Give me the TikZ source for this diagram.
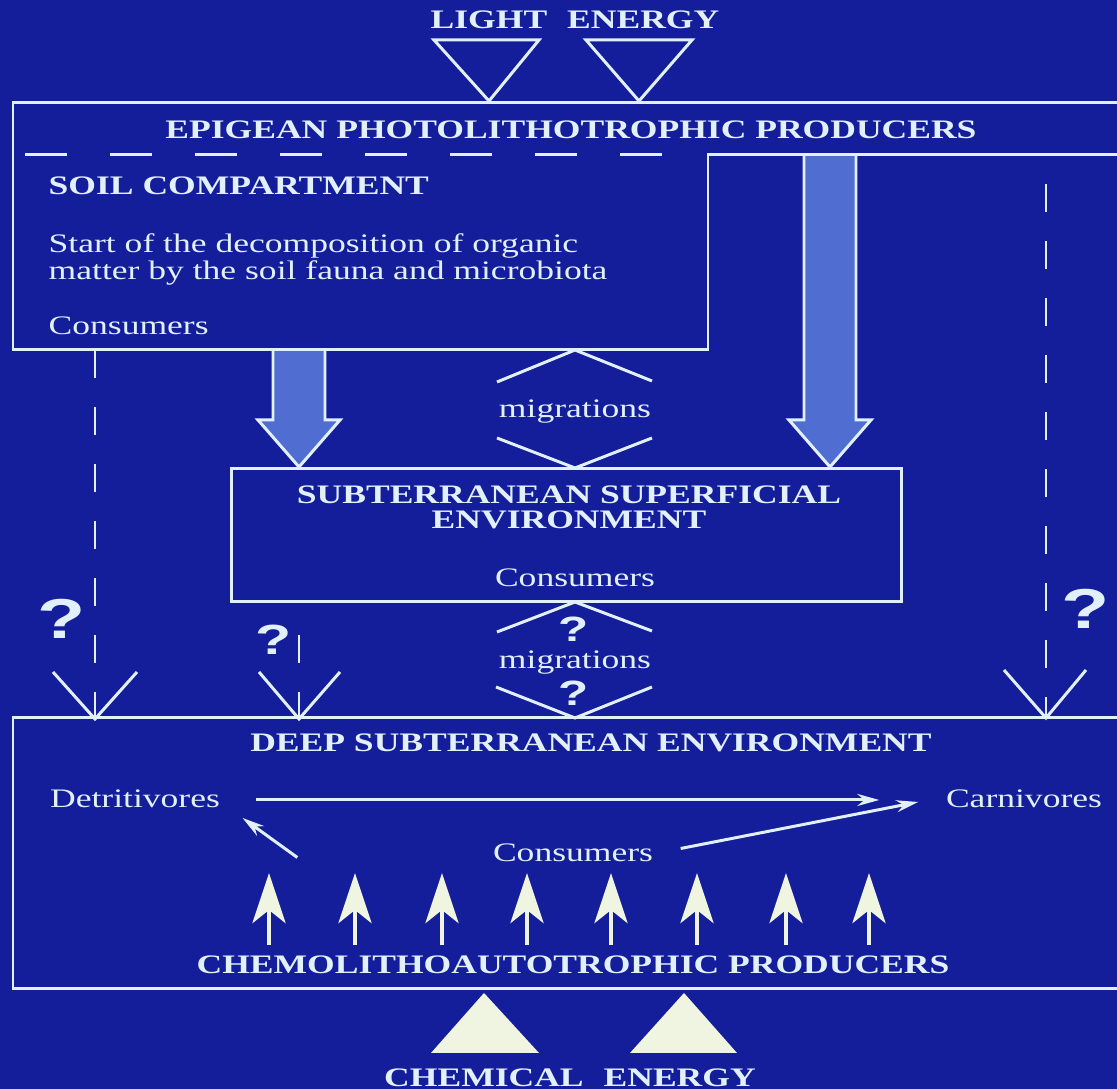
\documentclass[tikz,border=0pt]{standalone}
\usepackage{fontspec}
\setmainfont[FakeStretch=1.33]{Liberation Serif}
\newfontfamily\qmarkfont[FakeStretch=1.4]{Liberation Sans}
\usetikzlibrary{arrows.meta, positioning}

\definecolor{slide}{RGB}{20,30,155}
\definecolor{chalk}{RGB}{225,240,250}
\definecolor{hatch}{RGB}{80,110,210}
\definecolor{cream}{RGB}{240,245,225}

\tikzset{
  ln/.style   = {draw=chalk, line width=0.85pt},
  dsh/.style  = {ln, dash pattern=on 0.28cm off 0.29cm},
  hdr/.style  = {text=chalk, inner sep=0pt, text height=0.17cm, text depth=0pt,
                 font=\fontsize{7.6}{7.1}\selectfont\bfseries},
  txt/.style  = {text=chalk, inner sep=0pt, text height=0.17cm, text depth=0pt,
                 font=\fontsize{7.6}{7.7}\selectfont},
  qm/.style   = {text=chalk, inner sep=0pt, font=\qmarkfont\bfseries\fontsize{#1}{#1}\selectfont},
  thin/.style = {ln, -{Stealth[length=0.22cm, width=0.12cm]}},
  up/.style   = {draw=cream, line width=1.4pt,
                 -{Stealth[length=0.5cm, width=0.33cm, inset=0.13cm, fill=cream]}},
  fat/.style  = {ln, fill=hatch},
  envbox/.style = {draw=chalk, line width=0.85pt, inner sep=0pt},
}

\begin{document}
\begin{tikzpicture}[x=0.01cm, y=-0.01cm]

% frame
\useasboundingbox (0,0) rectangle (1117,1089);
\fill [slide] (0,0) rectangle (1117,1089);

% nodes
\node [hdr]                      at ( 575,  20  ) (light)    {LIGHT\hspace{0.2cm}ENERGY};
\node [hdr]                      at ( 571, 130.5) (epi)      {EPIGEAN PHOTOLITHOTROPHIC PRODUCERS};
\node [hdr, anchor=west]         at (  48, 186.5) (soil)     {SOIL COMPARTMENT};
\node [txt, anchor=west, align=left]
                                 at (  48, 271  ) (decomp)   {Start of the decomposition of organic\\matter by the soil fauna and microbiota};
\node [txt, anchor=west]         at (  48, 326.5) (soilcons) {Consumers};
\node [txt]                      at ( 575, 409.5) (mig1)     {migrations};
\node [envbox, minimum width=6.69cm, minimum height=1.32cm]
                                 at ( 566.5, 535) (sse)      {};
\node [hdr, align=center]        at ( 569, 520  ) (ssetitle) {SUBTERRANEAN SUPERFICIAL\\ENVIRONMENT};
\node [txt]                      at ( 575, 578.5) (ssecons)  {Consumers};
\node [txt]                      at ( 575, 660  ) (mig2)     {migrations};
\node [hdr]                      at ( 591, 743.5) (deep)     {DEEP SUBTERRANEAN ENVIRONMENT};
\node [txt]                      at ( 135, 799  ) (detr)     {Detritivores};
\node [txt]                      at (1024, 799  ) (carn)     {Carnivores};
\node [txt]                      at ( 573, 853.5) (dcons)    {Consumers};
\node [hdr]                      at ( 573, 965.5) (chemo)    {CHEMOLITHOAUTOTROPHIC PRODUCERS};
\node [hdr]                      at ( 570,1078  ) (chem)     {CHEMICAL\hspace{0.2cm}ENERGY};

\node [qm=16]                    at (  62, 619  ) (q1)       {?};
\node [qm=16]                    at (1086, 609  ) (q2)       {?};
\node [qm=12]                    at ( 274, 640  ) (q3)       {?};
\node [qm=10]                    at ( 574, 629  ) (q4)       {?};
\node [qm=10]                    at ( 574, 693  ) (q5)       {?};

% end points of the dashed flows
\coordinate (soilL) at (  95, 350);
\coordinate (deepL) at (  95, 719);
\coordinate (qmidM) at ( 299, 635);
\coordinate (deepM) at ( 299, 719);
\coordinate (epiR)  at (1046, 155);
\coordinate (deepR) at (1046, 718);

% fat flows into the superficial environment
\draw [fat] (273,350) -- (273,420) -- (258,420) -- (299,467) -- (340,420) -- (325,420) -- (325,350);
\draw [fat] (804,155) -- (804,420) -- (789,420) -- (830,467) -- (871,420) -- (856,420) -- (856,155);

% compartments
\draw [ln] (1117,103) -- (13,103) -- (13,350) -- (708,350) -- (708,155) -- (1117,155);
\draw [ln, dash pattern=on 0.42cm off 0.43cm] (25,155) -- (662,155);
\draw [ln] (1117,718) -- (13,718) -- (13,989) -- (1117,989);

% energy inputs
\draw [ln] (434,40) -- (539,40) -- (489,101) -- cycle;
\draw [ln] (586,40) -- (692,40) -- (639,101) -- cycle;
\fill [cream] (484,993) -- (539,1053) -- (431,1053) -- cycle;
\fill [cream] (684,993) -- (737,1053) -- (630,1053) -- cycle;

% migrations
\draw [ln] (497,382) -- (575,350) -- (652,381);
\draw [ln] (497,438) -- (575,468) -- (652,438);
\draw [ln] (497,632) -- (575,602) -- (652,631);
\draw [ln] (496,687) -- (575,718) -- (652,687);

% edges
\draw [dsh]                       (soilL) -- (deepL);
\draw [dsh]                       (qmidM) -- (deepM);
\draw [dsh, dash phase=0.28cm]    (epiR)  -- (deepR);
\draw [ln] ([shift={(-42,-47)}]deepL) -- (deepL) -- ([shift={(42,-47)}]deepL);
\draw [ln] ([shift={(-40,-47)}]deepM) -- (deepM) -- ([shift={(41,-47)}]deepM);
\draw [ln] ([shift={(-42,-48)}]deepR) -- (deepR) -- ([shift={(40,-48)}]deepR);

\draw [thin] ([shift={(35,1)}]detr.east)     -- ([shift={(-66,1)}]carn.west);
\draw [thin] ([shift={(27,-5)}]dcons.east)   -- ([shift={(-27,3)}]carn.west);
\draw [thin] ([shift={(-195,4)}]dcons.west)  -- ([shift={(22,19)}]detr.east);

\draw [up] (269,945) -- (269,873);
\draw [up] (355,945) -- (355,873);
\draw [up] (442,945) -- (442,873);
\draw [up] (527,945) -- (527,873);
\draw [up] (611,945) -- (611,873);
\draw [up] (697,945) -- (697,873);
\draw [up] (786,945) -- (786,873);
\draw [up] (869,945) -- (869,873);

\end{tikzpicture}
\end{document}
